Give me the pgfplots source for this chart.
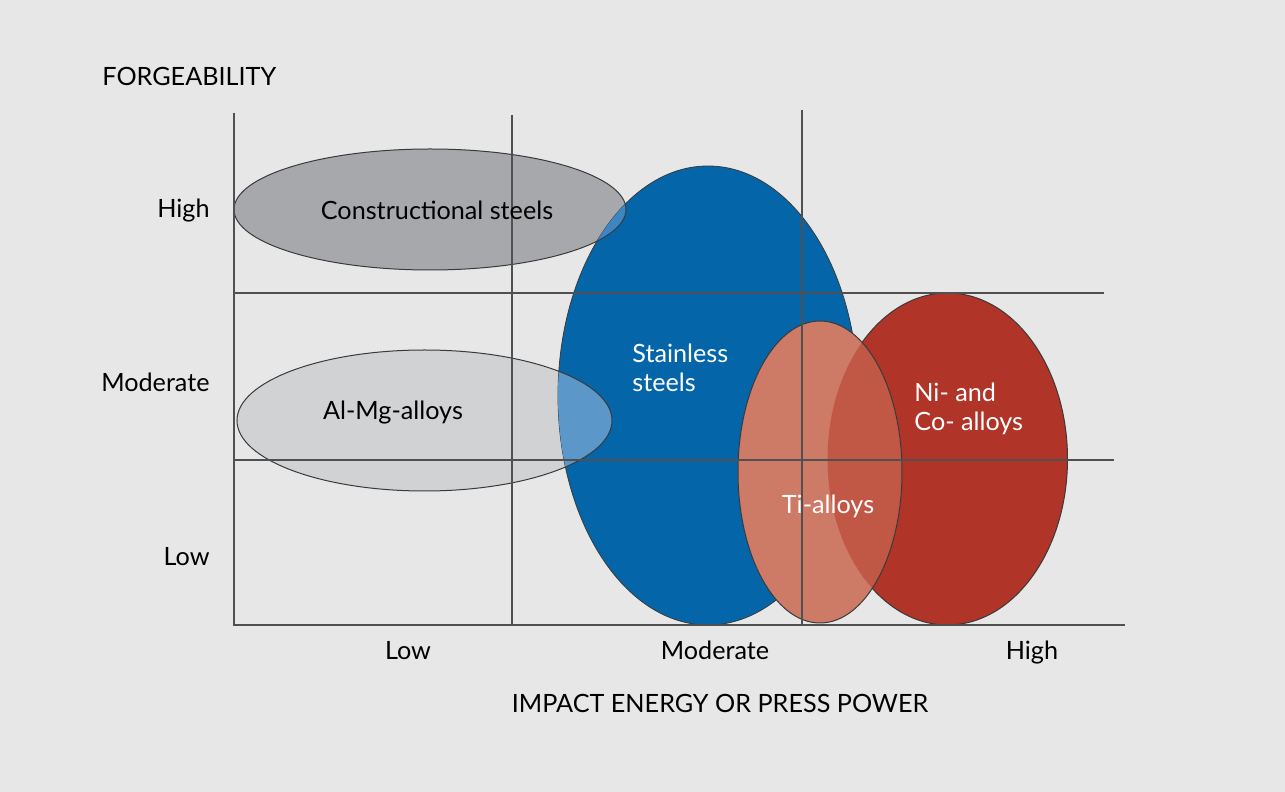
\documentclass[border=0pt]{standalone}
\usepackage{pgfplots}
\pgfplotsset{compat=1.18}
\usepackage{fontspec}
\setmainfont{Lato}
\definecolor{bg}{HTML}{E6E7E6}
\definecolor{grayA}{HTML}{A7A8AB}
\definecolor{grayB}{HTML}{D1D2D4}
\definecolor{blueS}{HTML}{0466A8}
\definecolor{blueA}{HTML}{3E86C1}
\definecolor{blueB}{HTML}{5B97C8}
\definecolor{redN}{HTML}{B03428}
\definecolor{salm}{HTML}{CD7B66}
\definecolor{salmD}{HTML}{C05845}
\definecolor{lin}{HTML}{505052}
\definecolor{edge}{HTML}{3A3A3C}
\newcommand{\lf}{\fontsize{12.6}{14.5}\selectfont}
\begin{document}
\begin{tikzpicture}[font=\lf]
\fill[bg] (-117pt,-83.5pt) rectangle (525.5pt,312.5pt);
\begin{axis}[
  scale only axis, width=445.5pt, height=255pt,
  xmin=0, xmax=891, ymin=0, ymax=510,
  clip=false,
  axis lines=left,
  axis line style={draw=none,-},
  major tick length=0pt,
  xtick={174,481,798}, xticklabels={Low,Moderate,High},
  ytick={59,233,407}, yticklabels={Low,Moderate,High},
  xticklabel style={anchor=base, inner sep=0pt, yshift=-17.5pt, font=\lf},
  yticklabel style={anchor=base east, inner sep=0pt, xshift=-12pt, font=\lf},
]
% ellipse parameters: centre x, centre y, x radius, y radius (axis units)
% Constructional steels
\fill[grayA] (axis cs:196,415.5) ellipse [x radius=196, y radius=60.5];
% Al-Mg-alloys
\fill[grayB] (axis cs:190.5,204.5) ellipse [x radius=187.5, y radius=70.5];
% Stainless steels
\filldraw[fill=blueS, draw=edge, line width=0.4pt] (axis cs:474,229.5) ellipse [x radius=150, y radius=229.5];
\begin{scope}
\clip (axis cs:474,229.5) ellipse [x radius=150, y radius=229.5];
\fill[blueA] (axis cs:196,415.5) ellipse [x radius=196, y radius=60.5];
\fill[blueB] (axis cs:190.5,204.5) ellipse [x radius=187.5, y radius=70.5];
\end{scope}
\draw[edge, line width=0.5pt] (axis cs:196,415.5) ellipse [x radius=196, y radius=60.5];
\draw[edge, line width=0.5pt] (axis cs:190.5,204.5) ellipse [x radius=187.5, y radius=70.5];
% Ni- and Co- alloys
\filldraw[fill=redN, draw=edge, line width=0.5pt] (axis cs:713.5,166) ellipse [x radius=120, y radius=166];
% Ti-alloys
\fill[salm] (axis cs:586,153) ellipse [x radius=82, y radius=151];
\begin{scope}
\clip (axis cs:713.5,166) ellipse [x radius=120, y radius=166];
\fill[salmD] (axis cs:586,153) ellipse [x radius=82, y radius=151];
\end{scope}
\draw[edge, line width=0.5pt] (axis cs:586,153) ellipse [x radius=82, y radius=151];
% grid lines
\addplot[lin, line width=0.6pt, no marks] coordinates {(0,512) (0,0) (891,0)};
\addplot[lin, line width=0.6pt, no marks] coordinates {(278,510) (278,0)};
\addplot[lin, line width=0.6pt, no marks] coordinates {(568,515) (568,0)};
\addplot[lin, line width=0.6pt, no marks] coordinates {(0,332) (870,332)};
\addplot[lin, line width=0.6pt, no marks] coordinates {(0,165) (880,165)};
% labels
\node at (axis cs:203,415) {Constructional steels};
\node at (axis cs:159,212) {Al-Mg-alloys};
\node[anchor=west, align=left, text=white, inner sep=0pt] at (axis cs:398,257.5) {Stainless\\steels};
\node[anchor=west, align=left, text=white, inner sep=0pt] at (axis cs:680,216.5) {Ni- and\\Co- alloys};
\node[text=white] at (axis cs:594,119) {Ti-alloys};
\node[anchor=west, inner sep=0pt] at (axis cs:-132,549) {FORGEABILITY};
\node at (axis cs:486,-78) {IMPACT ENERGY OR PRESS POWER};
\end{axis}
\end{tikzpicture}
\end{document}
